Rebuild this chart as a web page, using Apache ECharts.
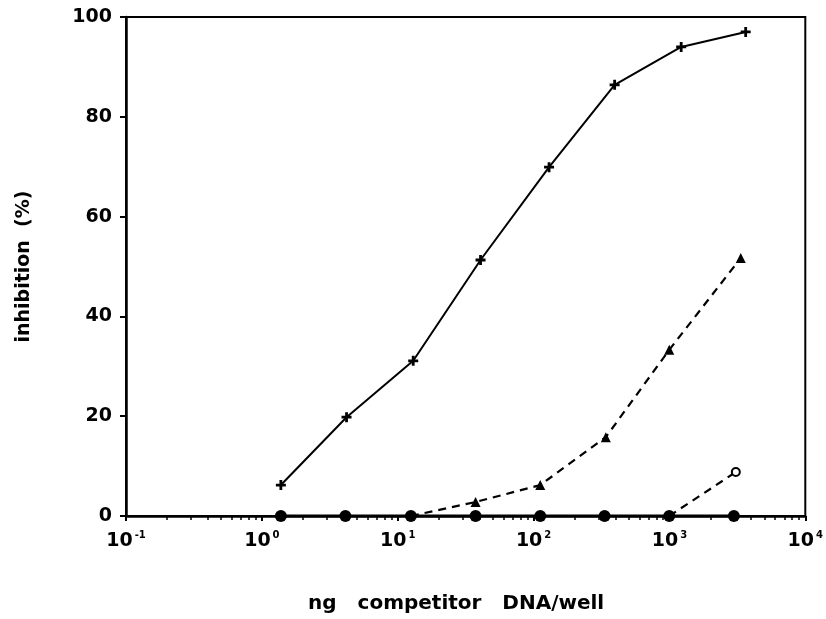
<!DOCTYPE html>
<html>
<head>
<meta charset="utf-8">
<script src="https://cdn.jsdelivr.net/npm/echarts@6/dist/echarts.min.js"></script>
<style>
html,body{margin:0;padding:0;background:#fff;}
#c{width:826px;height:619px;}
</style>
</head>
<body>
<div id="c"></div>
<script>
// Data
const crossX = [1.38, 4.2, 13.0, 40.7, 130, 395, 1220, 3640];
const crossY = [6.2, 19.8, 31.1, 51.3, 69.9, 86.4, 94.0, 97.0];
const circleX = [1.38, 4.12, 12.5, 37.4, 112, 333, 997, 2980];
const circleY = [0, 0, 0, 0, 0, 0, 0, 0];
const triX = [12.5, 37.4, 112, 340, 997, 3350];
const triY = [0, 2.8, 6.2, 15.8, 33.3, 51.7];
const openX = [997, 3080];
const openY = [0, 8.8];
const yTicks = [0, 20, 40, 60, 80, 100];

const FONT = 'DejaVu Sans';
function pairs(xs, ys, hideFirst) {
  return xs.map((x, i) => {
    if (hideFirst && i === 0) return { value: [x, ys[i]], symbol: 'none' };
    return [x, ys[i]];
  });
}
const plusPath = 'path://M3.6,0 L6.4,0 L6.4,3.6 L10,3.6 L10,6.4 L6.4,6.4 L6.4,10 L3.6,10 L3.6,6.4 L0,6.4 L0,3.6 L3.6,3.6 Z';

const chart = echarts.init(document.getElementById('c'), null, { renderer: 'canvas' });
chart.setOption({
  animation: false,
  backgroundColor: '#fff',
  grid: { left: 126, right: 16, top: 17, bottom: 103, show: true, borderColor: '#000', borderWidth: 2 },
  xAxis: {
    type: 'log', logBase: 10, min: 0.1, max: 10000,
    name: 'ng   competitor   DNA/well',
    nameLocation: 'middle', nameGap: 78,
    nameTextStyle: { fontFamily: FONT, fontWeight: 'bold', fontSize: 20, color: '#000', padding: [0, 19, 0, 0] },
    axisLine: { show: true, lineStyle: { color: '#000', width: 2.5 } },
    axisTick: { show: true, length: 5, lineStyle: { color: '#000', width: 2 } },
    minorTick: { show: true, splitNumber: 9, length: 4, lineStyle: { color: '#000', width: 1.5 } },
    splitLine: { show: false },
    axisLabel: {
      margin: 14,
      color: '#000',
      formatter: function (v) {
        const e = Math.round(Math.log10(v));
        return '{b|10}{s|' + e + '}';
      },
      rich: {
        b: { fontFamily: FONT, fontWeight: 'bold', fontSize: 19, color: '#000' },
        s: { fontFamily: FONT, fontWeight: 'bold', fontSize: 10, color: '#000', verticalAlign: 'top', padding: [0, 0, 12, 2] }
      }
    }
  },
  yAxis: {
    type: 'value', min: 0, max: 100, interval: 20,
    name: 'inhibition  (%)',
    nameLocation: 'middle', nameGap: 92,
    nameTextStyle: { fontFamily: FONT, fontWeight: 'bold', fontSize: 19, color: '#000' },
    axisLine: { show: true, lineStyle: { color: '#000', width: 2.5 } },
    axisTick: { show: true, length: 6, lineStyle: { color: '#000', width: 2 } },
    splitLine: { show: false },
    axisLabel: { margin: 14, fontFamily: FONT, fontWeight: 'bold', fontSize: 19, color: '#000' }
  },
  series: [
    {
      type: 'line', data: pairs(crossX, crossY), symbol: plusPath, symbolSize: 10,
      lineStyle: { color: '#000', width: 2 }, itemStyle: { color: '#000' }, z: 3
    },
    {
      type: 'line', data: pairs(circleX, circleY), symbol: 'circle', symbolSize: 12,
      lineStyle: { color: '#000', width: 3 }, itemStyle: { color: '#000' }, z: 4
    },
    {
      type: 'line', data: pairs(triX, triY, true), symbol: 'triangle', symbolSize: 10,
      lineStyle: { color: '#000', width: 2.2, type: [8, 6] }, itemStyle: { color: '#000' }, z: 3
    },
    {
      type: 'line', data: pairs(openX, openY, true), symbol: 'emptyCircle', symbolSize: 8,
      lineStyle: { color: '#000', width: 2.2, type: [8, 6] }, itemStyle: { color: '#000', borderColor: '#000', borderWidth: 1.5 }, z: 3
    }
  ]
});
</script>
</body>
</html>
